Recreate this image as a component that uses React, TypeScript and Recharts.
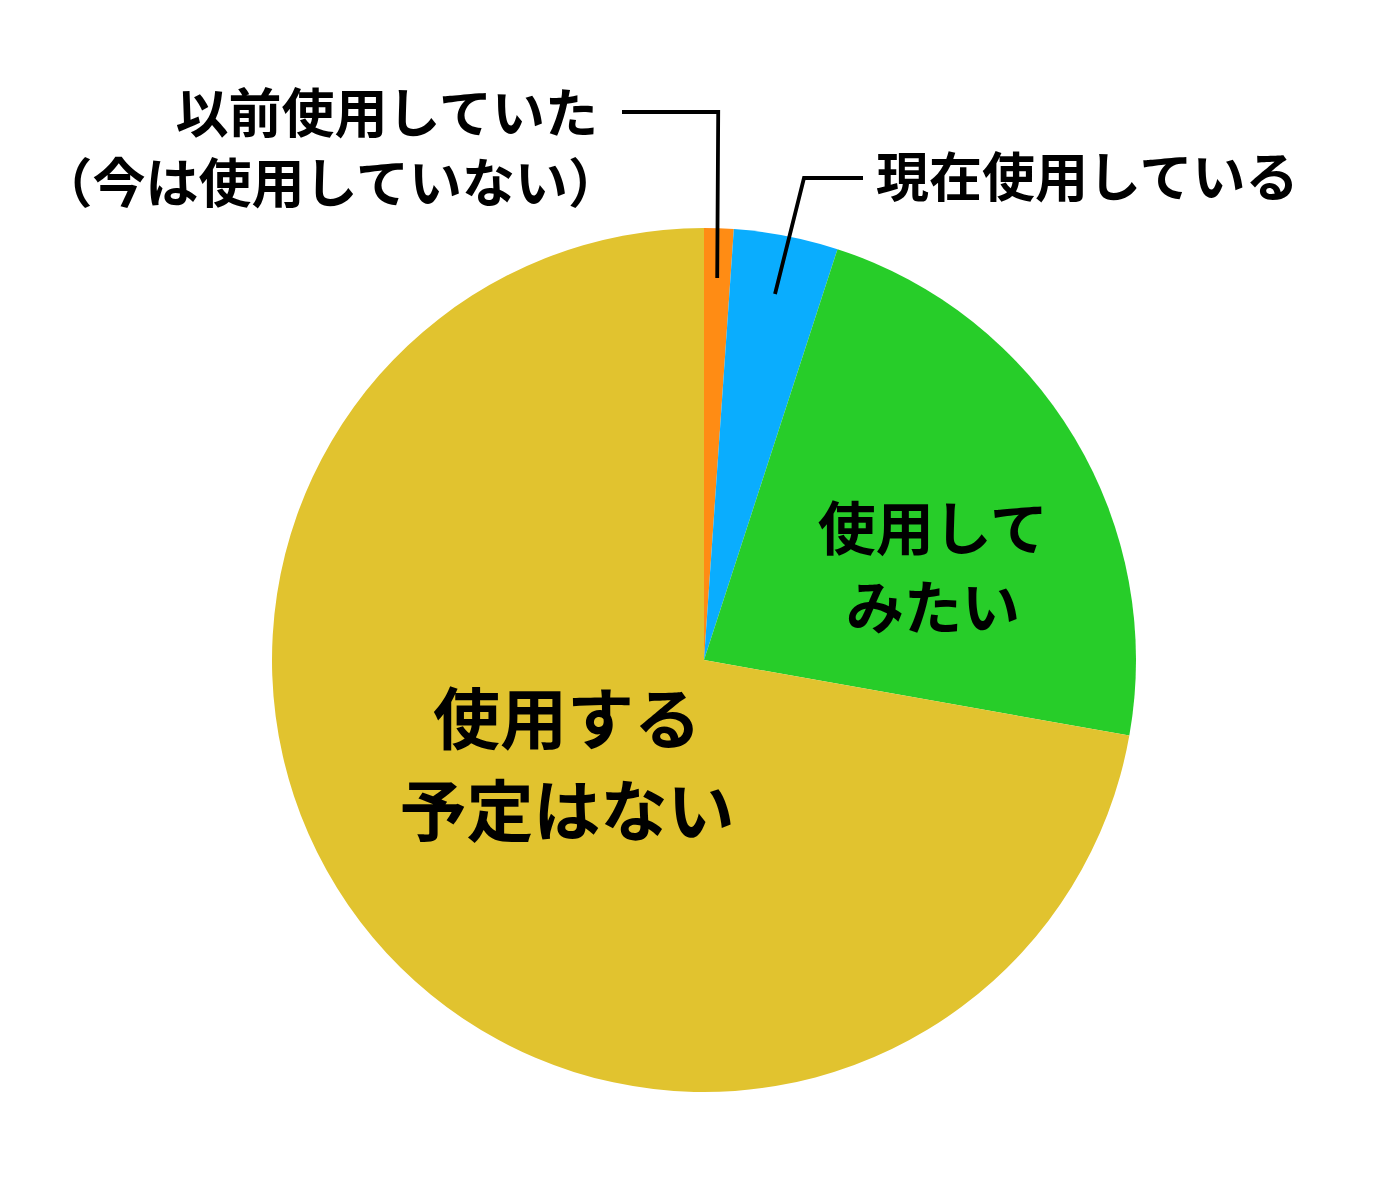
import { PieChart, Pie, Cell } from 'recharts'

// shares (percent), clockwise from 12 o'clock
const CATEGORIES = ['以前使用していた', '現在使用している', '使用してみたい', '使用する予定はない']
const SHARES = [1.1, 3.9, 22.8, 72.2]
const COLORS = ['#FF8C14', '#0AADFE', '#27CD29', '#E1C32F']
// text as shown on the chart, one entry per line
const LABEL_TEXT = [
  ['以前使用していた', '（今は使用していない）'],
  ['現在使用している'],
  ['使用して', 'みたい'],
  ['使用する', '予定はない'],
]

const data = CATEGORIES.map((name, i) => ({ name, value: SHARES[i] }))

const FONT = '"Noto Sans CJK JP", "Noto Sans", sans-serif'
const RADIAN = Math.PI / 180

interface LabelProps {
  cx: number
  cy: number
  midAngle: number
  outerRadius: number
  index: number
}

function SliceLabel({ cx, cy, midAngle, outerRadius, index }: LabelProps) {
  const lines = LABEL_TEXT[index]
  const polar = (r: number) => ({
    x: cx + r * Math.cos(-midAngle * RADIAN),
    y: cy + r * Math.sin(-midAngle * RADIAN),
  })

  if (index === 0) {
    const a = polar(outerRadius * 0.885)
    return (
      <g>
        <polyline
          points={`${a.x},${a.y} ${a.x + 1},${cy - 548} ${cx - 82},${cy - 548}`}
          fill="none"
          stroke="#000"
          strokeWidth={3.8}
        />
        <text x={cx - 106} y={cy - 550} textAnchor="end" dominantBaseline="central"
          fontFamily={FONT} fontWeight={700} fontSize={53} fill="#000">
          {lines[0]}
        </text>
        <text x={cx - 83} y={cy - 480} textAnchor="end" dominantBaseline="central"
          fontFamily={FONT} fontWeight={700} fontSize={53} fill="#000">
          {lines[1]}
        </text>
      </g>
    )
  }
  if (index === 1) {
    const a = polar(outerRadius * 0.863)
    return (
      <g>
        <polyline
          points={`${a.x},${a.y} ${cx + 100},${cy - 482} ${cx + 159},${cy - 482}`}
          fill="none"
          stroke="#000"
          strokeWidth={3.8}
        />
        <text x={cx + 172} y={cy - 486} textAnchor="start" dominantBaseline="central"
          fontFamily={FONT} fontWeight={700} fontSize={53} fill="#000">
          {lines[0]}
        </text>
      </g>
    )
  }
  if (index === 2) {
    return (
      <g>
        {lines.map((t, i) => (
          <text key={i} x={cx + 229} y={cy - 135 + i * 79} textAnchor="middle" dominantBaseline="central"
            fontFamily={FONT} fontWeight={700} fontSize={58} fill="#000">
            {t}
          </text>
        ))}
      </g>
    )
  }
  return (
    <g>
      {lines.map((t, i) => (
        <text key={i} x={cx - 137} y={cy + 54 + i * 92} textAnchor="middle" dominantBaseline="central"
          fontFamily={FONT} fontWeight={700} fontSize={67} fill="#000">
          {t}
        </text>
      ))}
    </g>
  )
}

export default function App() {
  return (
    <div style={{ position: 'absolute', left: 0, top: 0, width: 1400, height: 1200, background: '#fff' }}>
      <PieChart width={1400} height={1200} margin={{ top: 0, right: 0, bottom: 0, left: 0 }}>
        <Pie
          data={data}
          dataKey="value"
          nameKey="name"
          cx={704}
          cy={660}
          outerRadius={432}
          startAngle={90}
          endAngle={-270}
          stroke="none"
          labelLine={false}
          label={(props: any) => <SliceLabel {...props} />}
          isAnimationActive={false}
        >
          {data.map((d, i) => (
            <Cell key={d.name} fill={COLORS[i]} />
          ))}
        </Pie>
      </PieChart>
    </div>
  )
}
